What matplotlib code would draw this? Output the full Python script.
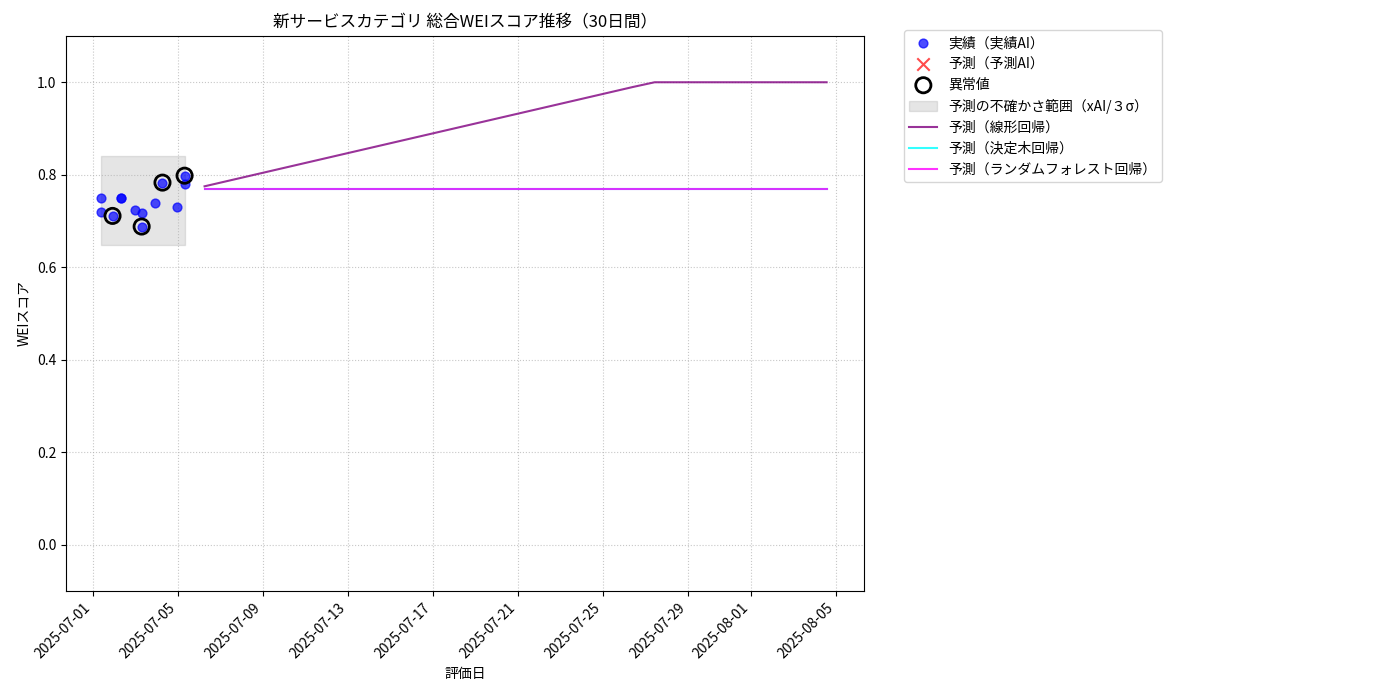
import numpy as np
import pandas as pd
import matplotlib.pyplot as plt
import matplotlib.dates as mdates

plt.rcParams['font.family'] = ['Noto Sans CJK JP', 'DejaVu Sans']

base = pd.Timestamp('2025-07-01')
# 実績
act_days = [0.42, 0.42, 0.94, 1.32, 1.32, 1.98, 2.31, 2.31, 2.96, 3.29, 3.95, 4.33, 4.33]
act_vals = [0.750, 0.720, 0.711, 0.750, 0.750, 0.724, 0.718, 0.688, 0.740, 0.783, 0.731, 0.781, 0.798]
# 異常値
out_days = [0.94, 2.31, 3.29, 4.33]
out_vals = [0.711, 0.688, 0.783, 0.798]
# 不確かさ範囲
band_days = [0.42, 4.33]
band_lo, band_hi = 0.649, 0.840
# 予測
lin_days = [5.27, 25.45, 26.45, 34.54]
lin_vals = [0.775, 0.990, 1.0, 1.0]
tree_days = [5.27, 34.54]
tree_vals = [0.770, 0.770]
rf_days = [5.27, 34.54]
rf_vals = [0.770, 0.770]

d = lambda xs: [base + pd.Timedelta(days=x) for x in xs]

fig = plt.figure(figsize=(14, 7), dpi=100)
ax = fig.add_axes([66/1400, 109/700, 798/1400, 555/700])

ax.scatter(d(act_days), act_vals, color='blue', alpha=0.7, s=40, label='実績（実績AI）', zorder=3)
ax.scatter([], [], color='red', marker='x', alpha=0.7, s=80, label='予測（予測AI）')
ax.scatter(d(out_days), out_vals, facecolors='none', edgecolors='black', s=120, linewidths=2, label='異常値', zorder=4)
ax.fill_between(d(band_days), band_lo, band_hi, color='gray', alpha=0.2, label='予測の不確かさ範囲（xAI/３σ）')
ax.plot(d(lin_days), lin_vals, color='purple', alpha=0.8, label='予測（線形回帰）')
ax.plot(d(tree_days), tree_vals, color='cyan', alpha=0.8, label='予測（決定木回帰）')
ax.plot(d(rf_days), rf_vals, color='magenta', alpha=0.8, label='予測（ランダムフォレスト回帰）')

ax.set_ylim(-0.1, 1.1)
ax.set_xlim(base - pd.Timedelta(days=1.25), base + pd.Timedelta(days=36.3))
ax.xaxis.set_major_locator(mdates.DayLocator(bymonthday=[1, 5, 9, 13, 17, 21, 25, 29]))
ax.xaxis.set_major_formatter(mdates.DateFormatter('%Y-%m-%d'))
plt.setp(ax.get_xticklabels(), rotation=45, ha='right')
ax.grid(True, linestyle=':', alpha=0.7)
ax.set_title('新サービスカテゴリ 総合WEIスコア推移（30日間）')
ax.set_xlabel('評価日')
ax.set_ylabel('WEIスコア')
ax.legend(loc='upper left', bbox_to_anchor=(1.05, 1.01), borderaxespad=0)

fig.savefig('out.png', dpi=100)
